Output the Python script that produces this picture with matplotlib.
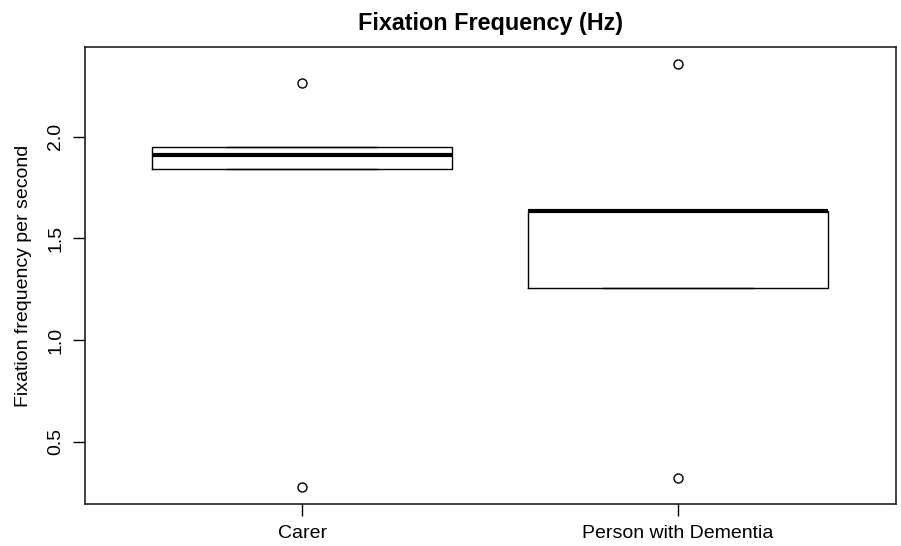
import matplotlib
matplotlib.use('Agg')
from matplotlib import pyplot as plt

# Box statistics (whiskers end on the box: no points beyond Q1/Q3)
groups   = ['Carer', 'Person with Dementia']
q1       = [1.843, 1.258]
medians  = [1.912, 1.636]
q3       = [1.947, 1.636]
fliers   = [[0.275, 2.264], [0.319, 2.358]]
yticks   = [0.5, 1.0, 1.5, 2.0]


def main():
    plt.rcParams['font.family'] = ['Liberation Sans', 'DejaVu Sans']

    stats = []
    for i, name in enumerate(groups):
        stats.append(dict(label=name, med=medians[i], q1=q1[i], q3=q3[i],
                          whislo=q1[i], whishi=q3[i], fliers=fliers[i]))

    fig = plt.figure(figsize=(9.01, 5.46), dpi=100)
    ax = fig.add_axes([0.0938, 0.0764, 0.9001, 0.8375])

    ax.bxp(stats, positions=[1, 2], widths=0.8, capwidths=0.4,
           boxprops=dict(color='black', linewidth=1.0),
           medianprops=dict(color='black', linewidth=3.0, solid_capstyle='butt'),
           whiskerprops=dict(color='black', linewidth=1.0, linestyle='--'),
           capprops=dict(color='black', linewidth=1.0),
           flierprops=dict(marker='o', markerfacecolor='none',
                           markeredgecolor='black', markersize=6.5,
                           markeredgewidth=1.0))

    ax.set_xlim(0.42, 2.58)
    ax.set_ylim(0.192, 2.441)
    ax.set_yticks(yticks)
    ax.set_yticklabels(['%.1f' % v for v in yticks], rotation=90, va='center')
    ax.tick_params(axis='both', labelsize=14, length=8.5, width=1.0, colors='black')
    ax.tick_params(axis='y', pad=6)
    ax.tick_params(axis='x', pad=6.5)
    for s in ax.spines.values():
        s.set_linewidth(1.2)
        s.set_color('#222222')

    ax.set_title('Fixation Frequency (Hz)', fontsize=16.8, fontweight='bold', pad=12)
    ax.set_ylabel('Fixation frequency per second', fontsize=14, va='center')
    ax.yaxis.set_label_coords(-0.0758, 0.5)

    fname = 'out.png'
    print('Writing %s' % (fname))
    fig.savefig(fname, dpi=100)
    plt.close()


if __name__ == '__main__': main()
